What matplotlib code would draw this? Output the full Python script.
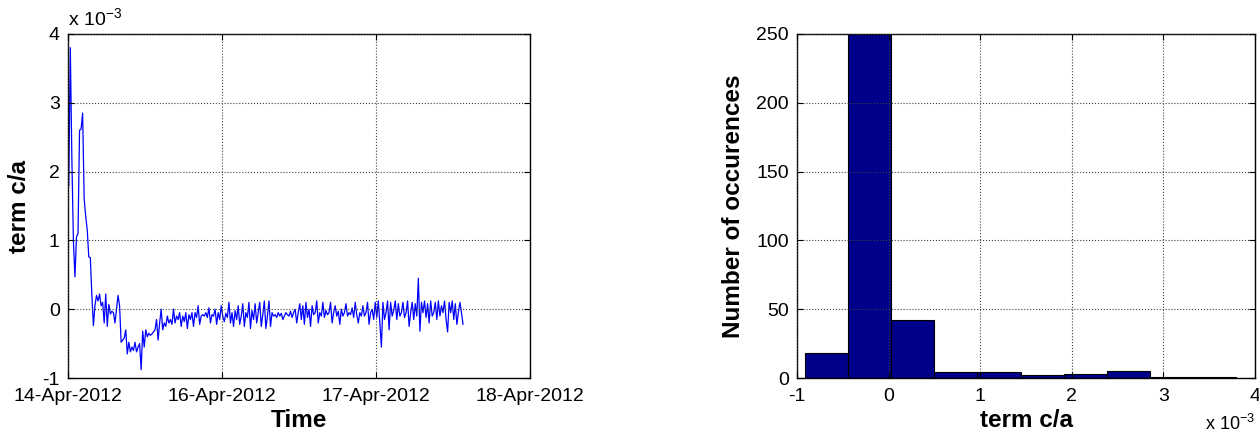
import numpy as np
import matplotlib
matplotlib.use("Agg")
import matplotlib.pyplot as plt

plt.rcParams['font.family'] = ['Liberation Sans', 'DejaVu Sans']
plt.rcParams['mathtext.fontset'] = 'custom'
plt.rcParams['mathtext.rm'] = 'Liberation Sans'
plt.rcParams['axes.unicode_minus'] = False

# term c/a over time (units of 1e-3), one sample every 0.01 day from 14-Apr
t_start = 0.005
t_step = 0.01
term_ca = [
    1.8, 3.8, 2.2, 1.0, 0.47, 1.05, 1.1, 2.6, 2.62, 2.85,
    1.6, 1.35, 1.15, 0.76, 0.75, 0.2, -0.24, 0.05, 0.2, 0.12,
    0.22, 0.05, 0.1, -0.2, 0.22, -0.25, 0.07, -0.07, -0.03, -0.05,
    -0.2, 0.0, 0.2, 0.05, -0.48, -0.45, -0.42, -0.3, -0.65, -0.48,
    -0.62, -0.55, -0.6, -0.48, -0.62, -0.55, -0.5, -0.88, -0.32, -0.55,
    -0.3, -0.4, -0.35, -0.38, -0.36, -0.33, -0.3, -0.15, -0.45, -0.2,
    0.0, -0.3, -0.2, -0.25, -0.1, -0.2, -0.15, -0.22, 0.0, -0.2,
    -0.1, -0.15, -0.05, -0.25, -0.1, -0.18, -0.05, -0.28, -0.08, -0.15,
    -0.05, -0.25, -0.05, -0.12, 0.05, -0.22, -0.1, -0.08, -0.1, -0.05,
    -0.12, 0.02, -0.2, -0.08, -0.1, 0.0, -0.22, -0.05, -0.15, 0.05,
    -0.1, -0.18, -0.06, -0.12, 0.1, -0.2, -0.05, -0.25, -0.02, -0.15,
    0.05, -0.22, -0.1, 0.08, -0.25, -0.05, -0.12, 0.1, -0.28, -0.02,
    -0.15, 0.08, -0.2, -0.05, 0.1, -0.25, -0.08, 0.12, -0.28, -0.1,
    0.12, -0.25, -0.05, -0.1, -0.08, -0.12, -0.05, -0.1, -0.06, -0.15,
    -0.1, -0.05, -0.08, -0.1, -0.03, -0.12, -0.05, 0.0, -0.2, -0.05,
    0.08, -0.15, 0.05, -0.22, 0.1, -0.12, 0.0, -0.25, 0.05, -0.08,
    -0.05, 0.12, -0.2, -0.05, -0.1, 0.1, -0.12, -0.02, -0.08, -0.05,
    0.1, -0.2, -0.05, 0.05, -0.1, -0.03, -0.22, 0.0, -0.1, -0.05,
    0.08, -0.1, -0.05, -0.08, 0.02, -0.12, 0.1, -0.08, -0.2, -0.05,
    -0.1, 0.05, -0.1, -0.05, 0.1, -0.22, -0.05, 0.0, -0.15, 0.1,
    -0.12, 0.12, -0.2, -0.55, 0.1, -0.15, -0.05, 0.12, -0.3, 0.1,
    -0.1, -0.02, 0.12, -0.15, 0.08, -0.1, -0.05, 0.1, -0.12, -0.05,
    0.12, -0.25, -0.05, 0.1, -0.15, 0.08, -0.1, 0.45, -0.32, 0.1,
    -0.05, 0.12, -0.12, 0.08, -0.2, 0.12, -0.1, -0.05, 0.1, -0.15,
    0.12, -0.1, 0.05, -0.05, 0.12, -0.15, -0.33, 0.1, -0.05, 0.12,
    -0.15, 0.08, -0.22, -0.05, 0.1, -0.05, -0.22,
]
time_ticks = [0, 1, 2, 3]
time_labels = ['14-Apr-2012', '16-Apr-2012', '17-Apr-2012', '18-Apr-2012']

# histogram of term c/a (units of 1e-3)
bin_edges = [-0.91, -0.44, 0.03, 0.50, 0.97, 1.44, 1.91, 2.38, 2.85, 3.32, 3.79]
bin_counts = [18, 290, 42, 4, 4, 2, 3, 5, 1, 1]

fig = plt.figure(figsize=(12.59, 4.40), dpi=100)
ax1 = fig.add_axes([68 / 1259, 62 / 440, 462 / 1259, 344 / 440])
ax2 = fig.add_axes([797 / 1259, 62 / 440, 458 / 1259, 344 / 440])

tick_fs = 14
label_fs = 17.5

t = t_start + t_step * np.arange(len(term_ca))
ax1.plot(t, term_ca, color='blue', lw=0.9)
ax1.set_xlim(0, 3)
ax1.set_ylim(-1, 4)
ax1.set_xticks(time_ticks)
ax1.set_xticklabels(time_labels)
ax1.set_yticks([-1, 0, 1, 2, 3, 4])
ax1.set_xlabel('Time', fontsize=label_fs, fontweight='bold', labelpad=3)
ax1.set_ylabel('term c/a', fontsize=label_fs, fontweight='bold', labelpad=8)
ax1.text(0.0, 1.012, r'x 10$^{-3}$', transform=ax1.transAxes, fontsize=tick_fs,
         ha='left', va='bottom')

edges = np.array(bin_edges)
ax2.bar(edges[:-1], bin_counts, width=np.diff(edges), align='edge',
        color='#00008B', edgecolor='black', linewidth=0.8, zorder=2)
ax2.set_xlim(-1, 4)
ax2.set_ylim(0, 250)
ax2.set_xticks([-1, 0, 1, 2, 3, 4])
ax2.set_yticks([0, 50, 100, 150, 200, 250])
ax2.set_xlabel('term c/a', fontsize=label_fs, fontweight='bold', labelpad=3)
ax2.set_ylabel('Number of occurences', fontsize=label_fs, fontweight='bold', labelpad=8)
ax2.text(1.0, -0.105, r'x 10$^{-3}$', transform=ax2.transAxes, fontsize=13,
         ha='right', va='top')

for ax in (ax1, ax2):
    ax.grid(True, linestyle=':', color='0.25', linewidth=0.8)
    ax.set_axisbelow(False)
    ax.tick_params(direction='in', top=True, right=True, length=4,
                   labelsize=tick_fs)
    ax.tick_params(axis='x', pad=7)
    ax.tick_params(axis='y', pad=6)
    for s in ax.spines.values():
        s.set_linewidth(1.0)

fig.savefig('out.png', dpi=100)
